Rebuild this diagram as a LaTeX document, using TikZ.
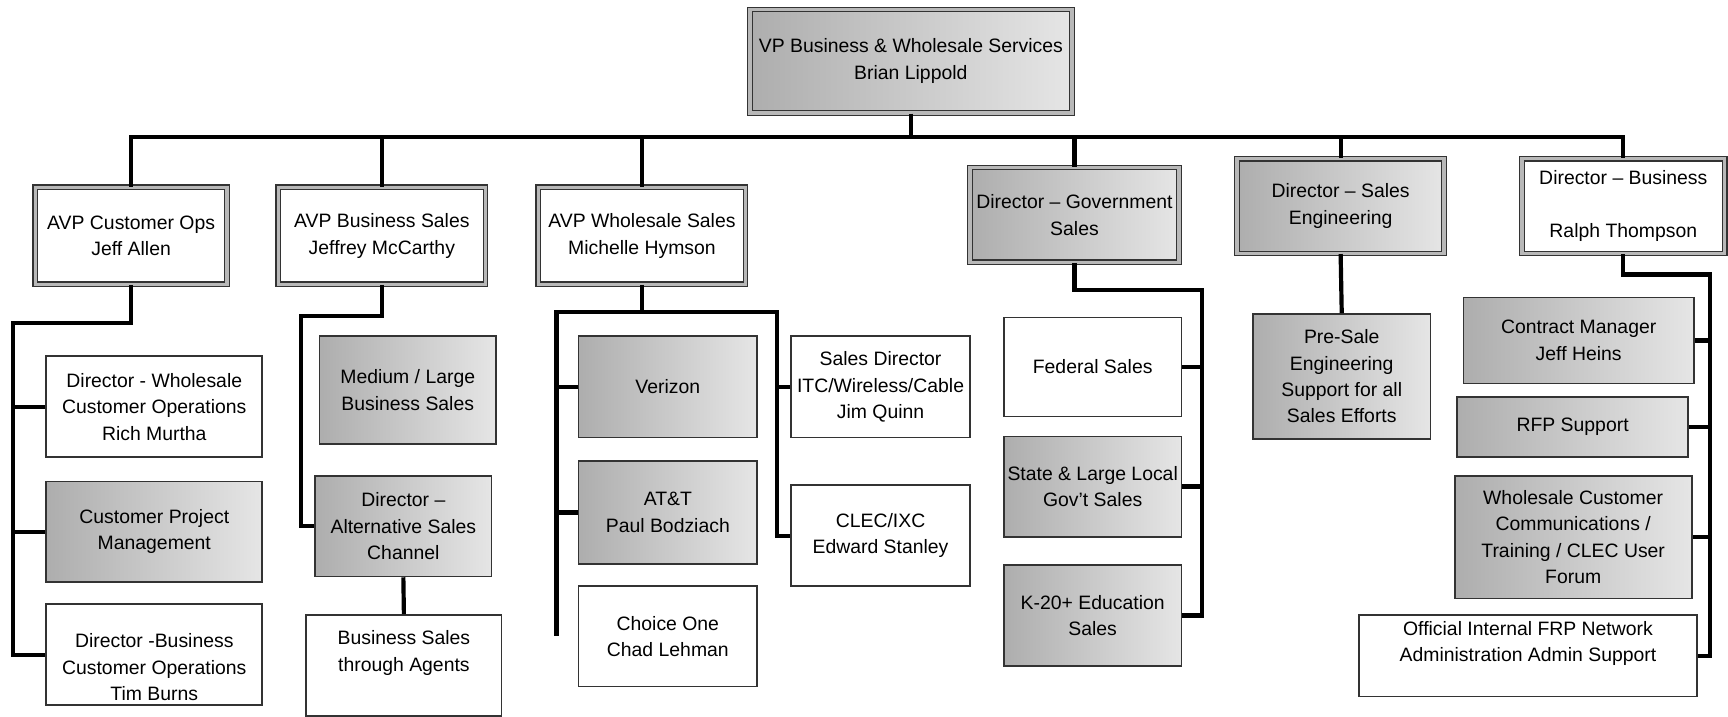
\documentclass[tikz,border=0pt]{standalone}
\usepackage{fontspec}
\setmainfont{Liberation Sans}

\tikzset{
  headbox/.style={draw=black!80, double=black!28, double distance=1.6pt, line width=0.5pt, align=center, inner sep=1pt},
  unitbox/.style={draw=black!80, line width=0.8pt, align=center, inner sep=1pt},
  shaded/.style={left color=black!32, right color=black!10},
  plain/.style={fill=white},
  link/.style={line width=1.9pt, black},
}

\begin{document}
\begin{tikzpicture}[x=0.5pt, y=-0.5pt, font=\fontsize{8.8}{12}\selectfont]
    \useasboundingbox (0,0) rectangle (1568,650);

    % top
    \node[headbox, shaded, minimum width=146pt, minimum height=47pt] (vp) at (826.5,55.5) {VP Business \& Wholesale Services\\Brian Lippold};

    % first level
    \node[headbox, plain, minimum width=87pt, minimum height=44pt] (avpcust) at (119,214) {AVP Customer Ops\\Jeff Allen};
    \node[headbox, plain, minimum width=94pt, minimum height=44pt] (avpbus) at (346.5,214) {AVP Business Sales\\Jeffrey McCarthy};
    \node[headbox, plain, minimum width=94pt, minimum height=44pt] (avpwhl) at (582.5,214) {AVP Wholesale Sales\\Michelle Hymson};
    \node[headbox, shaded, minimum width=95pt, minimum height=43pt] (dirgov) at (975,195) {Director -- Government\\Sales};
    \node[headbox, shaded, minimum width=94pt, minimum height=43pt] (dirse) at (1216.5,187) {Director -- Sales\\Engineering};
    \node[headbox, plain, minimum width=92pt, minimum height=43pt] (dirbus) at (1473,187) {Director -- Business\\[12pt]Ralph Thompson};

    % customer ops
    \node[unitbox, plain, minimum width=98pt, minimum height=46pt] (dirwhl) at (140,369) {Director - Wholesale\\Customer Operations\\Rich Murtha};
    \node[unitbox, shaded, minimum width=98pt, minimum height=45.5pt] (cpm) at (140,482.5) {Customer Project\\Management};
    \node[unitbox, plain, minimum width=98pt, minimum height=46pt] (dirbusco) at (140,594) {\mbox{}\\[6pt]Director -Business\\Customer Operations\\Tim Burns};

    % business sales
    \node[unitbox, shaded, minimum width=80pt, minimum height=49pt] (medlarge) at (370,354) {Medium / Large\\Business Sales};
    \node[unitbox, shaded, minimum width=80pt, minimum height=45.5pt] (diralt) at (366,477.5) {Director --\\Alternative Sales\\Channel};
    \node[unitbox, plain, minimum width=88.5pt, minimum height=46pt] (agents) at (366.5,604) {Business Sales\\through Agents\\[1.5pt]};

    % wholesale sales
    \node[unitbox, shaded, minimum width=81pt, minimum height=46pt] (verizon) at (606,351) {Verizon};
    \node[unitbox, shaded, minimum width=81pt, minimum height=47pt] (att) at (606,465) {AT\&T\\Paul Bodziach};
    \node[unitbox, plain, minimum width=81pt, minimum height=45.5pt] (choice) at (606,577.5) {Choice One\\Chad Lehman};
    \node[unitbox, plain, minimum width=81pt, minimum height=46pt] (salesdir) at (799,351) {Sales Director\\ITC/Wireless/Cable\\Jim Quinn};
    \node[unitbox, plain, minimum width=81pt, minimum height=46pt] (clec) at (799,486) {CLEC/IXC\\Edward Stanley};

    % government sales
    \node[unitbox, plain, minimum width=80.5pt, minimum height=45pt] (federal) at (991.5,333) {Federal Sales};
    \node[unitbox, shaded, minimum width=80.5pt, minimum height=45.5pt] (state) at (991.5,441.5) {State \& Large Local\\Gov't Sales};
    \node[unitbox, shaded, minimum width=80.5pt, minimum height=45.5pt] (k20) at (991.5,558.5) {K-20+ Education\\Sales};

    % sales engineering
    \node[unitbox, shaded, minimum width=80.5pt, minimum height=56.5pt] (presale) at (1217.5,341.5) {Pre-Sale\\Engineering\\Support for all\\Sales Efforts};

    % business
    \node[unitbox, shaded, minimum width=104.5pt, minimum height=39pt] (contract) at (1432.5,309) {Contract Manager\\Jeff Heins};
    \node[unitbox, shaded, minimum width=105pt, minimum height=27.5pt] (rfp) at (1427,387.5) {RFP Support};
    \node[unitbox, shaded, minimum width=107.5pt, minimum height=55.5pt] (wcc) at (1427.5,487.5) {Wholesale Customer\\Communications /\\Training / CLEC User\\Forum};
    \node[unitbox, plain, minimum width=153.5pt, minimum height=37pt] (official) at (1386.5,595) {Official Internal FRP Network\\Administration Admin Support\\[1pt]};

    % main bus
    \coordinate (bus) at (0,124);
    \draw[link] (avpcust.north) |- (bus -| dirbus.north) -- (dirbus.north);
    \foreach \n in {vp.south, avpbus.north, avpwhl.north, dirgov.north, dirse.north}
        \draw[link] (\n) -- (\n |- bus);

    % customer ops links
    \coordinate (cspine) at (12,293);
    \draw[link] (avpcust.south) |- (cspine) |- (dirbusco.west);
    \draw[link] (dirwhl.west) -- (dirwhl.west -| cspine);
    \draw[link] (cpm.west) -- (cpm.west -| cspine);

    % business sales links
    \coordinate (bspine) at (273,287);
    \draw[link] (avpbus.south) |- (bspine) |- (diralt.west);
    \draw[link] (diralt.south) -- (agents.north);

    % wholesale links
    \coordinate (wl) at (505,283);
    \coordinate (wr) at (705,283);
    \coordinate (wend) at (505,577);
    \draw[link] (avpwhl.south) -- (avpwhl.south |- wl);
    \draw[link] (wend) -- (wl) -- (wr) |- (clec.west);
    \draw[link] (verizon.west) -- (verizon.west -| wl);
    \draw[link] (att.west) -- (att.west -| wl);
    \draw[link] (salesdir.west) -- (salesdir.west -| wr);

    % government links
    \coordinate (gspine) at (1091,263);
    \draw[link] (dirgov.south) |- (gspine) |- (k20.east);
    \draw[link] (federal.east) -- (federal.east -| gspine);
    \draw[link] (state.east) -- (state.east -| gspine);

    % sales engineering link
    \draw[link] (dirse.south) -- (presale.north);

    % business links
    \coordinate (rspine) at (1552,249);
    \draw[link] (dirbus.south) |- (rspine) |- (official.east);
    \draw[link] (contract.east) -- (contract.east -| rspine);
    \draw[link] (rfp.east) -- (rfp.east -| rspine);
    \draw[link] (wcc.east) -- (wcc.east -| rspine);
\end{tikzpicture}
\end{document}
